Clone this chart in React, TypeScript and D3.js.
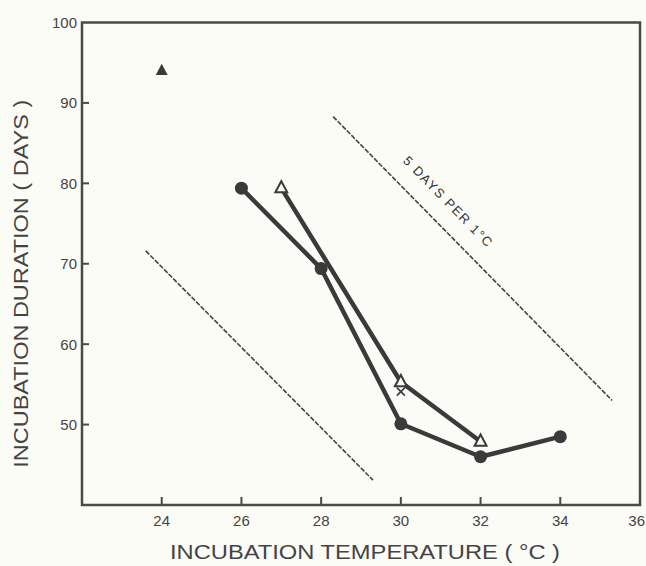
import React from "react";
import * as d3 from "d3";

// Data
const circleTemps = [26, 28, 30, 32, 34];
const circleDays = [79.4, 69.4, 50.1, 46.0, 48.5];

const openTriTemps = [27, 30, 32];
const openTriDays = [79.4, 55.3, 47.9];

const crossTemps = [30];
const crossDays = [54.1];

const filledTriTemps = [24];
const filledTriDays = [94.0];

// Reference lines: 5 days per 1 °C
const refLineA = [
  { t: 23.6, d: 71.6 },
  { t: 29.3, d: 43.1 },
];
const refLineB = [
  { t: 28.3, d: 88.3 },
  { t: 35.3, d: 53.0 },
];
const refLabel = "5 DAYS PER 1°C";

const xTicks = [24, 26, 28, 30, 32, 34, 36];
const yTicks = [50, 60, 70, 80, 90, 100];

const xTitle = "INCUBATION  TEMPERATURE ( °C )";
const yTitle = "INCUBATION  DURATION ( DAYS )";

const W = 646;
const H = 566;
const left = 82;
const right = 640;
const top = 22.5;
const bottom = 505;

export default function App() {
  const x = d3.scaleLinear().domain([22, 36]).range([left, right]);
  const y = d3.scaleLinear().domain([40, 100]).range([bottom, top]);
  const ink = "#3a3a3a";
  const font = "'Liberation Sans', Arial, sans-serif";

  const line = d3
    .line<[number, number]>()
    .x((p) => x(p[0]))
    .y((p) => y(p[1]));

  const circles: [number, number][] = circleTemps.map((t, i) => [t, circleDays[i]]);
  const opens: [number, number][] = openTriTemps.map((t, i) => [t, openTriDays[i]]);
  const refLine = d3
    .line<{ t: number; d: number }>()
    .x((p) => x(p.t))
    .y((p) => y(p.d));

  const triPath = (cx: number, cy: number, s: number) =>
    `M${cx},${cy - s}L${cx + s * 0.85},${cy + s * 0.6}L${cx - s * 0.85},${cy + s * 0.6}Z`;

  const bx0 = x(refLineB[0].t), by0 = y(refLineB[0].d);
  const bx1 = x(refLineB[1].t), by1 = y(refLineB[1].d);
  const ang = (Math.atan2(by1 - by0, bx1 - bx0) * 180) / Math.PI;
  const lx = 445, ly = 205;

  return (
    <svg
      width={W}
      height={H}
      style={{ position: "absolute", left: 0, top: 0, background: "#fcfcf6" }}
    >
      <rect x={0} y={0} width={W} height={H} fill="#fcfcf6" />
      <rect
        x={left}
        y={top}
        width={right - left}
        height={bottom - top}
        fill="none"
        stroke="#4a4a4a"
        strokeWidth={2.5}
      />
      {xTicks.map((t) => (
        <g key={"x" + t}>
          {t < 36 && (
            <line x1={x(t)} x2={x(t)} y1={bottom} y2={bottom - 8} stroke="#4a4a4a" strokeWidth={2} />
          )}
          <text
            x={t < 36 ? x(t) : W - 1}
            y={bottom + 21}
            textAnchor={t < 36 ? "middle" : "end"}
            fontFamily={font}
            fontSize={15}
            fill="#444"
          >
            {t}
          </text>
        </g>
      ))}
      {yTicks.map((v) => (
        <g key={"y" + v}>
          {v < 100 && (
            <line x1={left} x2={left + 7} y1={y(v)} y2={y(v)} stroke="#4a4a4a" strokeWidth={2} />
          )}
          <text
            x={left - 5}
            y={y(v) + 5.5}
            textAnchor="end"
            fontFamily={font}
            fontSize={15}
            fill="#444"
          >
            {v}
          </text>
        </g>
      ))}
      <text
        x={(left + right) / 2 + 4}
        y={559}
        textAnchor="middle"
        fontFamily={font}
        fontSize={20}
        fill="#444"
        textLength={390}
        lengthAdjust="spacingAndGlyphs"
      >
        {xTitle}
      </text>
      <text
        transform={`translate(28, ${(top + bottom) / 2 + 20}) rotate(-90)`}
        textAnchor="middle"
        fontFamily={font}
        fontSize={20}
        fill="#444"
        textLength={368}
        lengthAdjust="spacingAndGlyphs"
      >
        {yTitle}
      </text>

      <path d={refLine(refLineA) || ""} fill="none" stroke="#444" strokeWidth={1.6} strokeDasharray="5 1.5" />
      <path d={refLine(refLineB) || ""} fill="none" stroke="#444" strokeWidth={1.6} strokeDasharray="5 1.5" />
      <text
        transform={`translate(${lx}, ${ly}) rotate(${ang})`}
        textAnchor="middle"
        fontFamily={font}
        fontSize={13}
        fill="#333"
        letterSpacing={1.5}
      >
        {refLabel}
      </text>

      <path d={line(circles) || ""} fill="none" stroke={ink} strokeWidth={4.5} strokeLinejoin="round" strokeLinecap="round" />
      <path d={line(opens) || ""} fill="none" stroke={ink} strokeWidth={4.5} strokeLinejoin="round" strokeLinecap="round" />

      {circles.map(([t, d], i) => (
        <circle key={"c" + i} cx={x(t)} cy={y(d)} r={6.5} fill={ink} />
      ))}
      {opens.map(([t, d], i) => (
        <path key={"o" + i} d={triPath(x(t), y(d), 7)} fill="#fcfcf6" stroke={ink} strokeWidth={2} />
      ))}
      {crossTemps.map((t, i) => {
        const cx = x(t), cy = y(crossDays[i]);
        return (
          <g key={"x" + i} stroke={ink} strokeWidth={1.6}>
            <line x1={cx - 4} x2={cx + 4} y1={cy - 4} y2={cy + 4} />
            <line x1={cx - 4} x2={cx + 4} y1={cy + 4} y2={cy - 4} />
          </g>
        );
      })}
      {filledTriTemps.map((t, i) => (
        <path key={"f" + i} d={triPath(x(t), y(filledTriDays[i]), 7)} fill={ink} />
      ))}
    </svg>
  );
}
